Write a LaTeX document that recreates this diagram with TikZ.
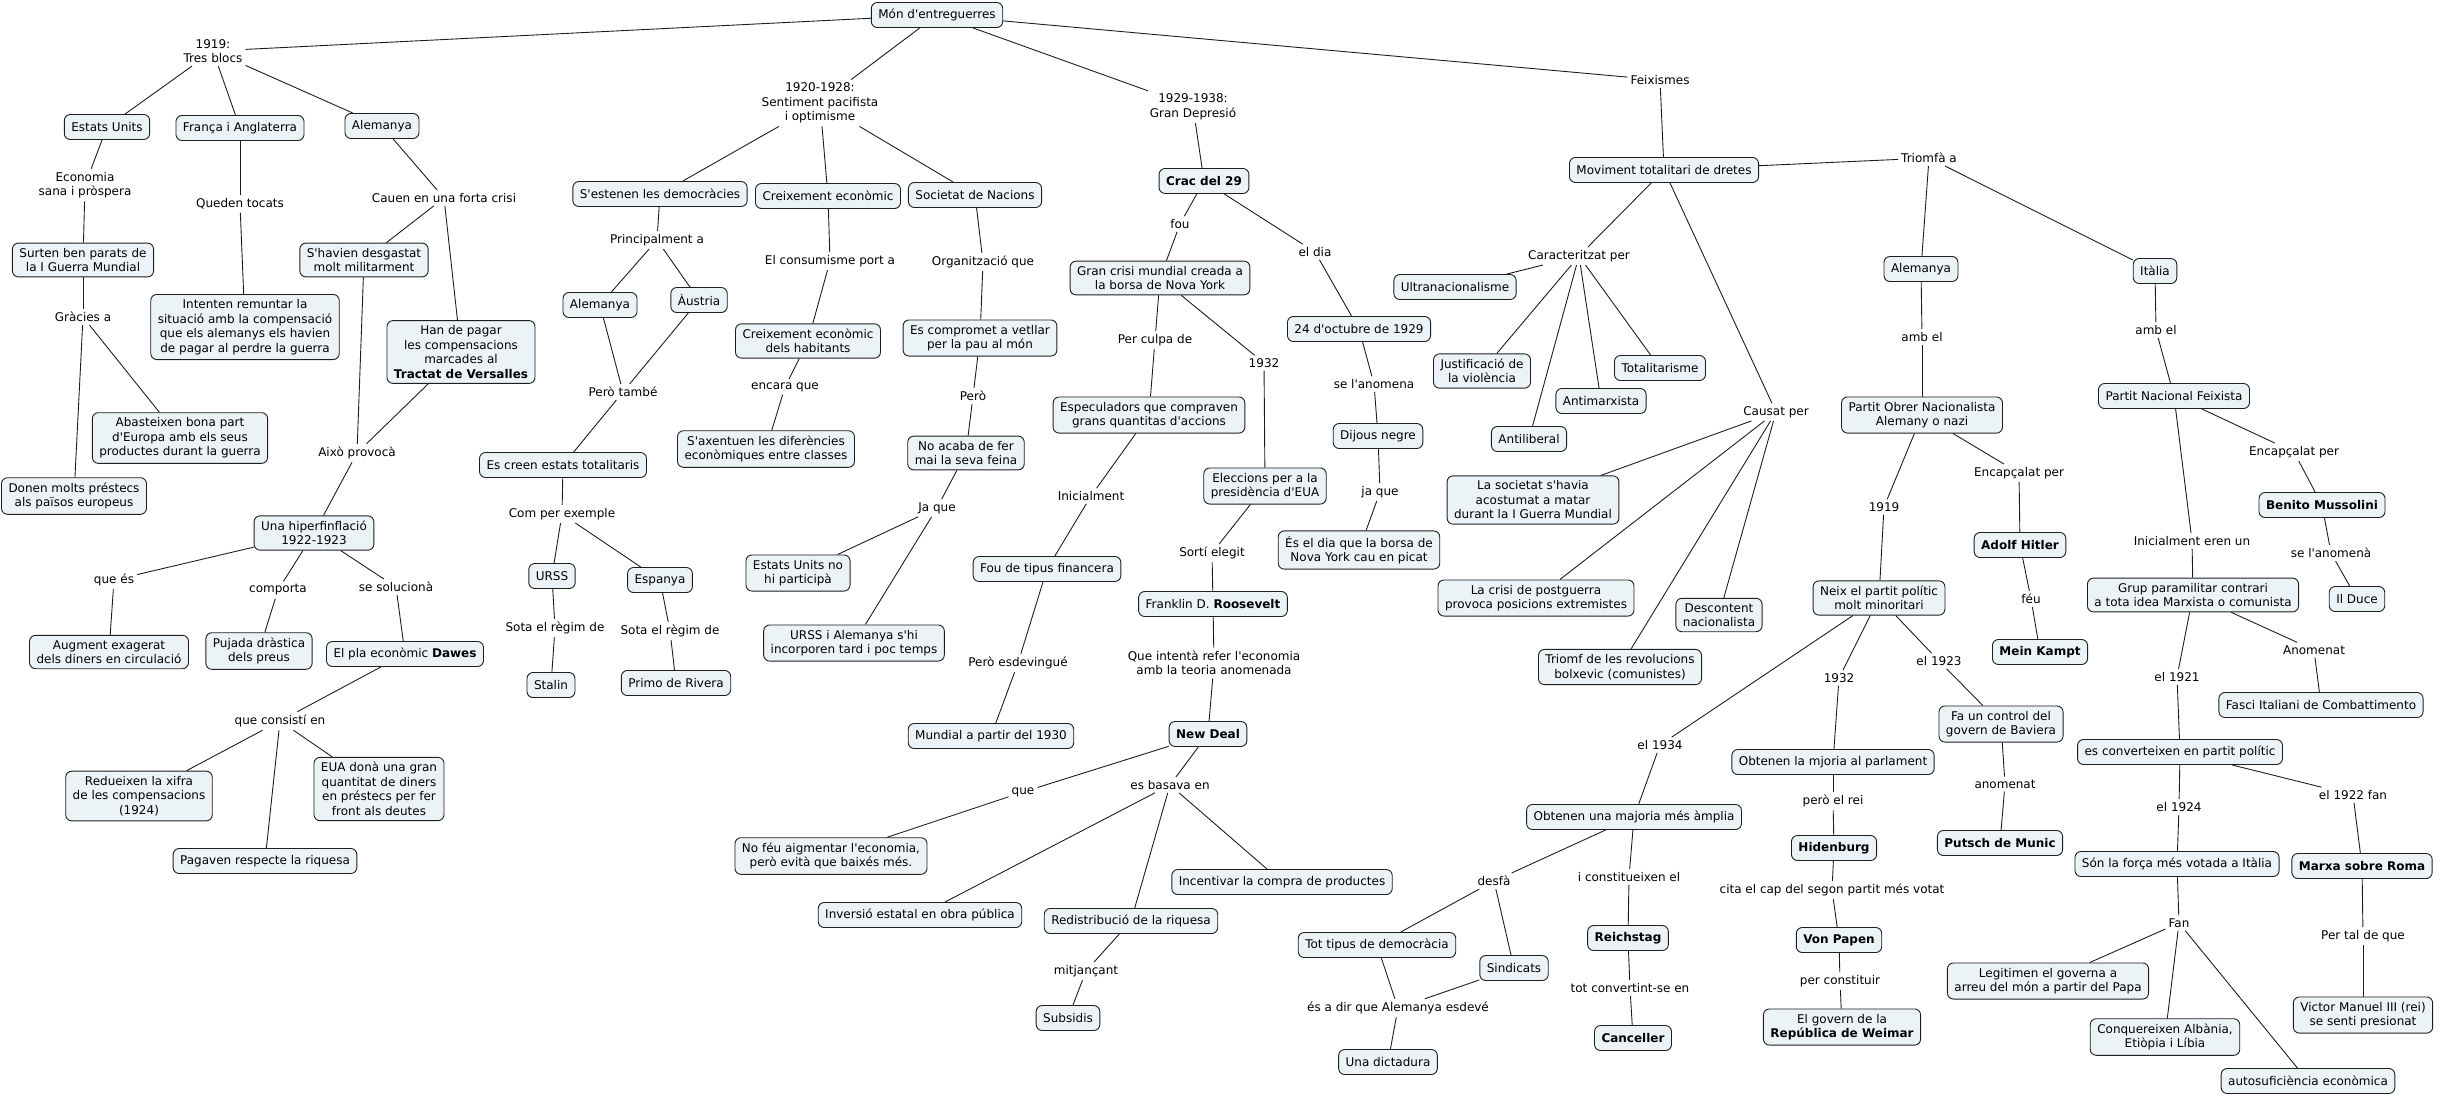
\documentclass[tikz,border=0pt]{standalone}
\usepackage{fontspec}
\setmainfont{DejaVu Sans}[Ligatures=TeXOff]
\definecolor{boxfill}{RGB}{236,243,246}
\definecolor{edgecol}{RGB}{30,30,30}
\newcommand\mfs{\fontsize{12}{14.5}\selectfont}
\begin{document}
\begin{tikzpicture}[x=1pt,y=-1pt,
  box/.style={draw=edgecol, line width=0.9pt, fill=boxfill, rounded corners=6pt, align=center, inner xsep=7pt, inner ysep=5pt, minimum height=25pt, font=\mfs},
  lab/.style={align=center, inner sep=3pt, font=\mfs},
  link/.style={draw=edgecol, line width=0.9pt}]
\useasboundingbox (0,0) rectangle (2447,1096);
% ---------- boxes ----------
\node[box] (mon) at (937,15) {Món d'entreguerres};
\node[box] (eu) at (107,127) {Estats Units};
\node[box] (fa) at (240,128) {França i Anglaterra};
\node[box] (alA) at (382,126) {Alemanya};
\node[box] (surten) at (83,260) {Surten ben parats de\\la I Guerra Mundial};
\node[box] (shavien) at (364,260) {S'havien desgastat\\molt militarment};
\node[box] (intenten) at (245,327) {Intenten remuntar la\\situació amb la compensació\\que els alemanys els havien\\de pagar al perdre la guerra};
\node[box] (hanpagar) at (461,352) {Han de pagar\\les compensacions\\marcades al\\\textbf{Tractat de Versalles}};
\node[box] (abast) at (180,438) {Abasteixen bona part\\d'Europa amb els seus\\productes durant la guerra};
\node[box] (donen) at (74,496) {Donen molts préstecs\\als països europeus};
\node[box] (hiper) at (314,533) {Una hiperfinflació\\1922-1923};
\node[box] (augment) at (109,652) {Augment exagerat\\dels diners en circulació};
\node[box] (pujada) at (259,651) {Pujada dràstica\\dels preus};
\node[box] (dawes) at (405,654) {El pla econòmic \textbf{Dawes}};
\node[box] (redueixen) at (139,796) {Redueixen la xifra\\de les compensacions\\(1924)};
\node[box] (eua) at (379,789) {EUA donà una gran\\quantitat de diners\\en préstecs per fer\\front als deutes};
\node[box] (pagaven) at (265,861) {Pagaven respecte la riquesa};
\node[box] (sesten) at (660,194) {S'estenen les democràcies};
\node[box] (creix) at (828,196) {Creixement econòmic};
\node[box] (sdn) at (975,195) {Societat de Nacions};
\node[box] (alB) at (600,305) {Alemanya};
\node[box] (austria) at (699,300) {Àustria};
\node[box] (creix2) at (808,341) {Creixement econòmic\\dels habitants};
\node[box] (compromet) at (980,338) {Es compromet a vetllar\\per la pau al món};
\node[box] (esc) at (563,465) {Es creen estats totalitaris};
\node[box] (urss) at (552,576) {URSS};
\node[box] (stalin) at (551,685) {Stalin};
\node[box] (espanya) at (660,580) {Espanya};
\node[box] (primo) at (676,683) {Primo de Rivera};
\node[box] (saxentuen) at (766,449) {S'axentuen les diferències\\econòmiques entre classes};
\node[box] (noacaba) at (966,453) {No acaba de fer\\mai la seva feina};
\node[box] (eunop) at (798,573) {Estats Units no\\hi participà};
\node[box] (urssalem) at (854,643) {URSS i Alemanya s'hi\\incorporen tard i poc temps};
\node[box] (crac) at (1204,181) {\textbf{Crac del 29}};
\node[box] (grancrisi) at (1160,278) {Gran crisi mundial creada a\\la borsa de Nova York};
\node[box] (especul) at (1149,415) {Especuladors que compraven\\grans quantitas d'accions};
\node[box] (foufin) at (1047,569) {Fou de tipus financera};
\node[box] (mundial) at (991,736) {Mundial a partir del 1930};
\node[box] (eleccions) at (1265,486) {Eleccions per a la\\presidència d'EUA};
\node[box] (franklin) at (1213,604) {Franklin D. \textbf{Roosevelt}};
\node[box] (newdeal) at (1208,734) {\textbf{New Deal}};
\node[box] (nofeu) at (831,856) {No féu aigmentar l'economia,\\però evità que baixés més.};
\node[box] (inversio) at (920,915) {Inversió estatal en obra pública};
\node[box] (redistrib) at (1131,921) {Redistribució de la riquesa};
\node[box] (incentivar) at (1282,882) {Incentivar la compra de productes};
\node[box] (subsidis) at (1068,1018) {Subsidis};
\node[box] (oct24) at (1359,329) {24 d'octubre de 1929};
\node[box] (dijous) at (1378,436) {Dijous negre};
\node[box] (esdia) at (1359,550) {És el dia que la borsa de\\Nova York cau en picat};
\node[box] (mov) at (1664,170) {Moviment totalitari de dretes};
\node[box] (ultra) at (1455,287) {Ultranacionalisme};
\node[box] (justif) at (1482,371) {Justificació de\\la violència};
\node[box] (totalit) at (1660,368) {Totalitarisme};
\node[box] (antimarx) at (1601,401) {Antimarxista};
\node[box] (antilib) at (1529,439) {Antiliberal};
\node[box] (societat) at (1533,500) {La societat s'havia\\acostumat a matar\\durant la I Guerra Mundial};
\node[box] (crisi) at (1536,598) {La crisi de postguerra\\provoca posicions extremistes};
\node[box] (descontent) at (1719,615) {Descontent\\nacionalista};
\node[box] (triomf) at (1620,667) {Triomf de les revolucions\\bolxevic (comunistes)};
\node[box] (alC) at (1921,269) {Alemanya};
\node[box] (italia) at (2155,271) {Itàlia};
\node[box] (pobnazi) at (1922,415) {Partit Obrer Nacionalista\\Alemany o nazi};
\node[box] (hitler) at (2020,545) {\textbf{Adolf Hitler}};
\node[box] (meinkampt) at (2040,652) {\textbf{Mein Kampt}};
\node[box] (neix) at (1879,598) {Neix el partit polític\\molt minoritari};
\node[box] (faun) at (2001,724) {Fa un control del\\govern de Baviera};
\node[box] (putsch) at (2000,843) {\textbf{Putsch de Munic}};
\node[box] (obmaj) at (1833,762) {Obtenen la mjoria al parlament};
\node[box] (hidenburg) at (1834,848) {\textbf{Hidenburg}};
\node[box] (vonpapen) at (1839,940) {\textbf{Von Papen}};
\node[box] (weimar) at (1842,1027) {El govern de la\\\textbf{República de Weimar}};
\node[box] (obamp) at (1634,817) {Obtenen una majoria més àmplia};
\node[box] (tottipus) at (1377,945) {Tot tipus de democràcia};
\node[box] (sindicats) at (1514,968) {Sindicats};
\node[box] (dictadura) at (1388,1062) {Una dictadura};
\node[box] (reichstag) at (1628,938) {\textbf{Reichstag}};
\node[box] (canceller) at (1633,1038) {\textbf{Canceller}};
\node[box] (pnf) at (2174,396) {Partit Nacional Feixista};
\node[box] (mussolini) at (2322,505) {\textbf{Benito Mussolini}};
\node[box] (ilduce) at (2357,599) {Il Duce};
\node[box] (grup) at (2193,595) {Grup paramilitar contrari\\a tota idea Marxista o comunista};
\node[box] (fasci) at (2321,705) {Fasci Italiani de Combattimento};
\node[box] (convert) at (2180,752) {es converteixen en partit polític};
\node[box] (sonforca) at (2177,864) {Són la força més votada a Itàlia};
\node[box] (marxa) at (2362,866) {\textbf{Marxa sobre Roma}};
\node[box] (legitimen) at (2048,981) {Legitimen el governa a\\arreu del món a partir del Papa};
\node[box] (conquer) at (2165,1037) {Conquereixen Albània,\\Etiòpia i Líbia};
\node[box] (autosuf) at (2308,1081) {autosuficiència econòmica};
\node[box] (victor) at (2363,1015) {Victor Manuel III (rei)\\se senti presionat};
% ---------- labels ----------
\node[lab] (l1919) at (213,51) {1919:\\Tres blocs};
\node[lab] (l1920) at (820,103) {1920-1928:\\Sentiment pacifista\\i optimisme};
\node[lab] (l1929) at (1193,107) {1929-1938:\\Gran Depresió};
\node[lab] (lfeix) at (1660,80) {Feixismes};
\node[lab] (leco) at (85,185) {Economia\\sana i pròspera};
\node[lab] (lqueden) at (240,204) {Queden tocats};
\node[lab] (lcauen) at (444,198) {Cauen en una forta crisi};
\node[lab] (lgracies) at (83,317) {Gràcies a};
\node[lab] (laixo) at (357,453) {Això provocà};
\node[lab] (lquees) at (114,580) {que és};
\node[lab] (lcomporta) at (278,590) {comporta};
\node[lab] (lsesol) at (396,587) {se solucionà};
\node[lab] (lconsisti) at (280,721) {que consistí en};
\node[lab] (lprinc) at (657,240) {Principalment a};
\node[lab] (lperotambe) at (623,392) {Però també};
\node[lab] (lcomper) at (562,514) {Com per exemple};
\node[lab] (lsota1) at (555,628) {Sota el règim de};
\node[lab] (lsota2) at (670,631) {Sota el règim de};
\node[lab] (lconsum) at (830,261) {El consumisme port a};
\node[lab] (lencara) at (785,387) {encara que};
\node[lab] (lorg) at (983,262) {Organització que};
\node[lab] (lpero) at (973,396) {Però};
\node[lab] (ljaque) at (937,508) {Ja que};
\node[lab] (lfou) at (1180,224) {fou};
\node[lab] (lperculpa) at (1155,340) {Per culpa de};
\node[lab] (linicial) at (1091,496) {Inicialment};
\node[lab] (lesdev) at (1018,663) {Però esdevingué};
\node[lab] (l1932a) at (1264,363) {1932};
\node[lab] (lsorti) at (1212,553) {Sortí elegit};
\node[lab] (lqueint) at (1214,663) {Que intentà refer l'economia\\amb la teoria anomenada};
\node[lab] (leldia) at (1315,252) {el dia};
\node[lab] (lsanomena) at (1374,384) {se l'anomena};
\node[lab] (ljaque2) at (1380,492) {ja que};
\node[lab] (lque) at (1023,792) {que};
\node[lab] (lbasava) at (1170,785) {es basava en};
\node[lab] (lmitjan) at (1086,971) {mitjançant};
\node[lab] (lcaract) at (1579,256) {Caracteritzat per};
\node[lab] (lcausat) at (1776,412) {Causat per};
\node[lab] (ltriomfa) at (1929,158) {Triomfà a};
\node[lab] (lambel1) at (1922,337) {amb el};
\node[lab] (lambel2) at (2156,330) {amb el};
\node[lab] (lencap1) at (2019,473) {Encapçalat per};
\node[lab] (lencap2) at (2294,452) {Encapçalat per};
\node[lab] (l1919b) at (1884,507) {1919};
\node[lab] (lfeu) at (2031,599) {féu};
\node[lab] (l1934) at (1660,745) {el 1934};
\node[lab] (l1932b) at (1839,678) {1932};
\node[lab] (l1923) at (1939,661) {el 1923};
\node[lab] (lperorei) at (1833,801) {però el rei};
\node[lab] (lcita) at (1832,890) {cita el cap del segon partit més votat};
\node[lab] (lpercons) at (1840,981) {per constituir};
\node[lab] (ldesfa) at (1494,881) {desfà};
\node[lab] (liconst) at (1629,877) {i constitueixen el};
\node[lab] (ltotconv) at (1630,988) {tot convertint-se en};
\node[lab] (lesadir) at (1398,1008) {és a dir que Alemanya esdevé};
\node[lab] (lanomenat) at (2005,784) {anomenat};
\node[lab] (lsanomenaa) at (2331,553) {se l'anomenà};
\node[lab] (linicialeren) at (2192,541) {Inicialment eren un};
\node[lab] (lanomenat2) at (2314,650) {Anomenat};
\node[lab] (l1921) at (2177,677) {el 1921};
\node[lab] (l1924) at (2179,807) {el 1924};
\node[lab] (l1922) at (2353,795) {el 1922 fan};
\node[lab] (lfan) at (2179,923) {Fan};
\node[lab] (lpertal) at (2363,936) {Per tal de que};
% ---------- connectors ----------
\foreach \a/\b in {mon/l1919, l1919/eu, l1919/fa, l1919/alA,
  mon/l1920, l1920/sesten, l1920/creix, l1920/sdn,
  mon/l1929, l1929/crac, mon/lfeix, lfeix/mov,
  eu/leco, leco/surten, fa/lqueden, lqueden/intenten,
  alA/lcauen, lcauen/shavien, lcauen/hanpagar,
  surten/lgracies, lgracies/donen, lgracies/abast,
  shavien/laixo, hanpagar/laixo, laixo/hiper,
  hiper/lquees, lquees/augment, hiper/lcomporta, lcomporta/pujada, hiper/lsesol, lsesol/dawes,
  dawes/lconsisti, lconsisti/redueixen, lconsisti/pagaven, lconsisti/eua,
  sesten/lprinc, lprinc/alB, lprinc/austria,
  alB/lperotambe, austria/lperotambe, lperotambe/esc,
  esc/lcomper, lcomper/urss, lcomper/espanya,
  urss/lsota1, lsota1/stalin, espanya/lsota2, lsota2/primo,
  creix/lconsum, lconsum/creix2, creix2/lencara, lencara/saxentuen,
  sdn/lorg, lorg/compromet, compromet/lpero, lpero/noacaba, noacaba/ljaque, ljaque/eunop, ljaque/urssalem,
  crac/lfou, lfou/grancrisi, grancrisi/lperculpa, lperculpa/especul, especul/linicial, linicial/foufin, foufin/lesdev, lesdev/mundial,
  grancrisi/l1932a, l1932a/eleccions, eleccions/lsorti, lsorti/franklin, franklin/lqueint, lqueint/newdeal,
  crac/leldia, leldia/oct24, oct24/lsanomena, lsanomena/dijous, dijous/ljaque2, ljaque2/esdia,
  newdeal/lque, lque/nofeu, newdeal/lbasava, lbasava/inversio, lbasava/redistrib, lbasava/incentivar, redistrib/lmitjan, lmitjan/subsidis,
  mov/lcaract, lcaract/ultra, lcaract/justif, lcaract/antilib, lcaract/antimarx, lcaract/totalit,
  mov/lcausat, lcausat/societat, lcausat/crisi, lcausat/triomf, lcausat/descontent,
  mov/ltriomfa, ltriomfa/alC, ltriomfa/italia,
  alC/lambel1, lambel1/pobnazi,
  pobnazi/lencap1, lencap1/hitler, hitler/lfeu, lfeu/meinkampt,
  pobnazi/l1919b, l1919b/neix,
  neix/l1934, l1934/obamp, neix/l1932b, l1932b/obmaj, neix/l1923, l1923/faun,
  faun/lanomenat, lanomenat/putsch,
  obmaj/lperorei, lperorei/hidenburg, hidenburg/lcita, lcita/vonpapen, vonpapen/lpercons, lpercons/weimar,
  obamp/ldesfa, ldesfa/tottipus, ldesfa/sindicats, tottipus/lesadir, sindicats/lesadir, lesadir/dictadura,
  obamp/liconst, liconst/reichstag, reichstag/ltotconv, ltotconv/canceller,
  italia/lambel2, lambel2/pnf,
  pnf/lencap2, lencap2/mussolini, mussolini/lsanomenaa, lsanomenaa/ilduce,
  pnf/linicialeren, linicialeren/grup,
  grup/lanomenat2, lanomenat2/fasci,
  grup/l1921, l1921/convert,
  convert/l1924, l1924/sonforca, sonforca/lfan, lfan/legitimen, lfan/conquer, lfan/autosuf,
  convert/l1922, l1922/marxa, marxa/lpertal, lpertal/victor}
  \draw[link] (\a) -- (\b);
\end{tikzpicture}
\end{document}
